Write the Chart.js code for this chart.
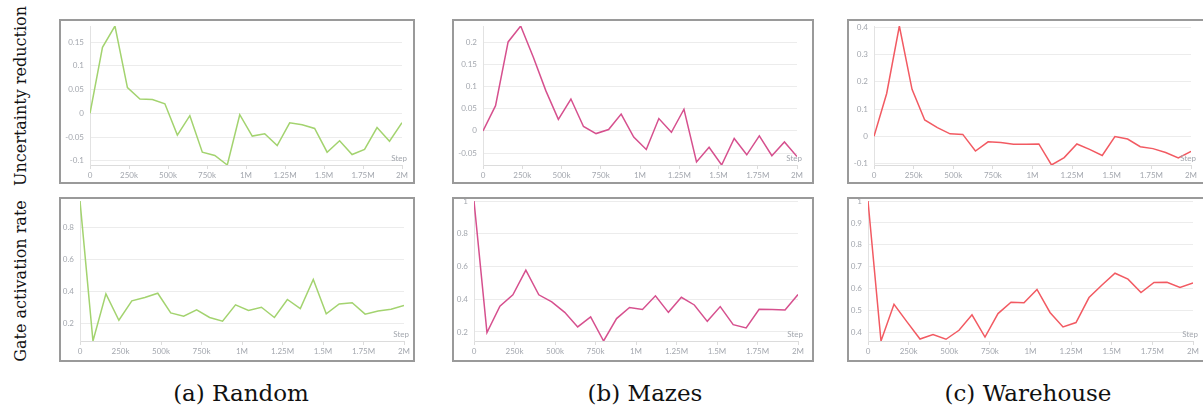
<!DOCTYPE html>
<html><head><meta charset="utf-8">
<script src="https://cdn.jsdelivr.net/npm/chart.js@4/dist/chart.umd.min.js"></script>
<style>
html,body{margin:0;padding:0;background:#fff;width:1203px;height:408px;overflow:hidden;position:relative}
.frame{position:absolute;border:2px solid #9a9a9a;box-sizing:border-box;background:#fff;overflow:hidden}
.frame canvas{display:block}
.ylab{position:absolute;font-family:"DejaVu Serif",serif;font-size:16px;color:#111;transform:translate(-50%,-50%) rotate(-90deg);white-space:nowrap}
.cap{position:absolute;font-family:"DejaVu Serif",serif;font-size:23px;color:#111;transform:translate(-50%,-50%);white-space:nowrap}
</style></head><body>
<div class="ylab" style="left:20px;top:96px">Uncertainty reduction</div>
<div class="ylab" style="left:20px;top:281px">Gate activation rate</div>
<div class="cap" style="left:241px;top:393px">(a) Random</div>
<div class="cap" style="left:645px;top:393px">(b) Mazes</div>
<div class="cap" style="left:1028px;top:393px">(c) Warehouse</div>
<script>
// ---- data ----
const steps = [0,80000,160000,240000,320000,400000,480000,560000,640000,720000,800000,880000,960000,1040000,1120000,1200000,1280000,1360000,1440000,1520000,1600000,1680000,1760000,1840000,1920000,2000000];
const xTickValues = [0,250000,500000,750000,1000000,1250000,1500000,1750000,2000000];
const xTickLabels = ['0','250k','500k','750k','1M','1.25M','1.5M','1.75M','2M'];

const randomUncertainty = [0,0.139,0.184,0.054,0.030,0.029,0.020,-0.046,-0.005,-0.082,-0.089,-0.109,-0.003,-0.048,-0.043,-0.068,-0.020,-0.024,-0.032,-0.082,-0.058,-0.087,-0.076,-0.030,-0.059,-0.020];
const mazesUncertainty = [0,0.057,0.201,0.237,0.167,0.091,0.026,0.072,0.010,-0.006,0.003,0.038,-0.014,-0.042,0.028,-0.003,0.049,-0.070,-0.037,-0.077,-0.017,-0.054,-0.011,-0.056,-0.025,-0.058];
const warehouseUncertainty = [0,0.157,0.404,0.172,0.060,0.032,0.009,0.007,-0.054,-0.020,-0.023,-0.029,-0.029,-0.028,-0.105,-0.078,-0.028,-0.048,-0.070,-0.001,-0.010,-0.038,-0.045,-0.059,-0.079,-0.055];
const randomGate = [0.967,0.091,0.386,0.221,0.342,0.363,0.390,0.267,0.246,0.286,0.238,0.215,0.317,0.282,0.302,0.238,0.351,0.294,0.476,0.261,0.323,0.330,0.259,0.279,0.290,0.313];
const mazesGate = [1.0,0.196,0.358,0.427,0.578,0.427,0.384,0.320,0.231,0.292,0.145,0.282,0.350,0.337,0.421,0.320,0.412,0.365,0.265,0.355,0.245,0.225,0.339,0.337,0.335,0.429];
const warehouseGate = [1.0,0.362,0.529,0.449,0.371,0.391,0.370,0.411,0.481,0.380,0.487,0.539,0.536,0.597,0.492,0.426,0.446,0.560,0.617,0.671,0.644,0.583,0.629,0.630,0.606,0.627];

const yTicksRandomU = [-0.1,-0.05,0,0.05,0.1,0.15];
const yLabelsRandomU = ['-0.1','-0.05','0','0.05','0.1','0.15'];
const yTicksMazesU = [-0.05,0,0.05,0.1,0.15,0.2];
const yLabelsMazesU = ['-0.05','0','0.05','0.1','0.15','0.2'];
const yTicksWarehouseU = [-0.1,0,0.1,0.2,0.3,0.4];
const yLabelsWarehouseU = ['-0.1','0','0.1','0.2','0.3','0.4'];
const yTicksRandomG = [0.2,0.4,0.6,0.8];
const yLabelsRandomG = ['0.2','0.4','0.6','0.8'];
const yTicksMazesG = [0.2,0.4,0.6,0.8,1];
const yLabelsMazesG = ['0.2','0.4','0.6','0.8','1'];
const yTicksWarehouseG = [0.4,0.5,0.6,0.7,0.8,0.9,1];
const yLabelsWarehouseG = ['0.4','0.5','0.6','0.7','0.8','0.9','1'];

// ---- layout / style ----
const GREEN='#a3d36f', PINK='#d6508e', RED='#f25a62';
const TICK_COLOR='#a3a7ae';
const panels = [
  {vals:randomUncertainty, color:GREEN, yt:yTicksRandomU, yl:yLabelsRandomU, box:[59,19,356,165], pad:{left:29,right:11,top:5,bottom:17}},
  {vals:mazesUncertainty, color:PINK, yt:yTicksMazesU, yl:yLabelsMazesU, box:[452,19,362,165], pad:{left:29,right:15,top:5,bottom:17}},
  {vals:warehouseUncertainty, color:RED, yt:yTicksWarehouseU, yl:yLabelsWarehouseU, box:[847,19,358,165], pad:{left:25,right:12,top:5,bottom:17}},
  {vals:randomGate, color:GREEN, yt:yTicksRandomG, yl:yLabelsRandomG, box:[59,197,356,165], pad:{left:19,right:9,top:2,bottom:19}},
  {vals:mazesGate, color:PINK, yt:yTicksMazesG, yl:yLabelsMazesG, box:[452,197,362,165], pad:{left:20,right:14,top:2,bottom:19}},
  {vals:warehouseGate, color:RED, yt:yTicksWarehouseG, yl:yLabelsWarehouseG, box:[847,197,358,165], pad:{left:19,right:10,top:2,bottom:19}}
];

const stepPlugin = {id:'stepLabel', afterDatasetsDraw(chart){
  const {ctx, chartArea:a} = chart;
  ctx.save(); ctx.font='8px Lato'; ctx.fillStyle=TICK_COLOR; ctx.textAlign='right'; ctx.textBaseline='bottom';
  ctx.fillText('Step', a.right+5, a.bottom-3); ctx.restore();
}};

panels.forEach(p=>{
  const div=document.createElement('div'); div.className='frame';
  div.style.left=p.box[0]+'px'; div.style.top=p.box[1]+'px';
  div.style.width=p.box[2]+'px'; div.style.height=p.box[3]+'px';
  const c=document.createElement('canvas'); c.width=p.box[2]-4; c.height=p.box[3]-4;
  div.appendChild(c); document.body.appendChild(div);
  new Chart(c,{type:'line',
    data:{datasets:[{data:steps.map((s,i)=>({x:s,y:p.vals[i]})), borderColor:p.color, borderWidth:1.5, pointRadius:0, tension:0, fill:false}]},
    options:{responsive:false, animation:false, events:[],
      plugins:{legend:{display:false}, tooltip:{enabled:false}},
      layout:{padding:{left:0,top:p.pad.top,right:p.pad.right,bottom:0}},
      scales:{
        x:{type:'linear', min:0, max:2000000,
          afterBuildTicks:s=>{s.ticks=xTickValues.map(v=>({value:v}));},
          ticks:{callback:(v,i)=>xTickLabels[i], font:{family:'Lato',size:8}, color:TICK_COLOR, padding:2, maxRotation:0, autoSkip:false},
          grid:{drawOnChartArea:false, drawTicks:true, tickLength:4, color:'#dcdcdc'},
          border:{color:'#dcdcdc'},
          afterFit:s=>{s.height=p.pad.bottom; s.paddingLeft=0; s.paddingRight=0;}},
        y:{type:'linear', min:Math.min(...p.vals), max:Math.max(...p.vals),
          afterBuildTicks:s=>{s.ticks=p.yt.map(v=>({value:v}));},
          ticks:{callback:(v,i)=>p.yl[i], font:{family:'Lato',size:8}, color:TICK_COLOR, padding:6, autoSkip:false},
          grid:{color:'#ececec', drawTicks:false},
          border:{color:'#e2e2e2'},
          afterFit:s=>{s.width=p.pad.left; s.paddingTop=0; s.paddingBottom=0;}}
      }},
    plugins:[stepPlugin]});
});
</script>
</body></html>
